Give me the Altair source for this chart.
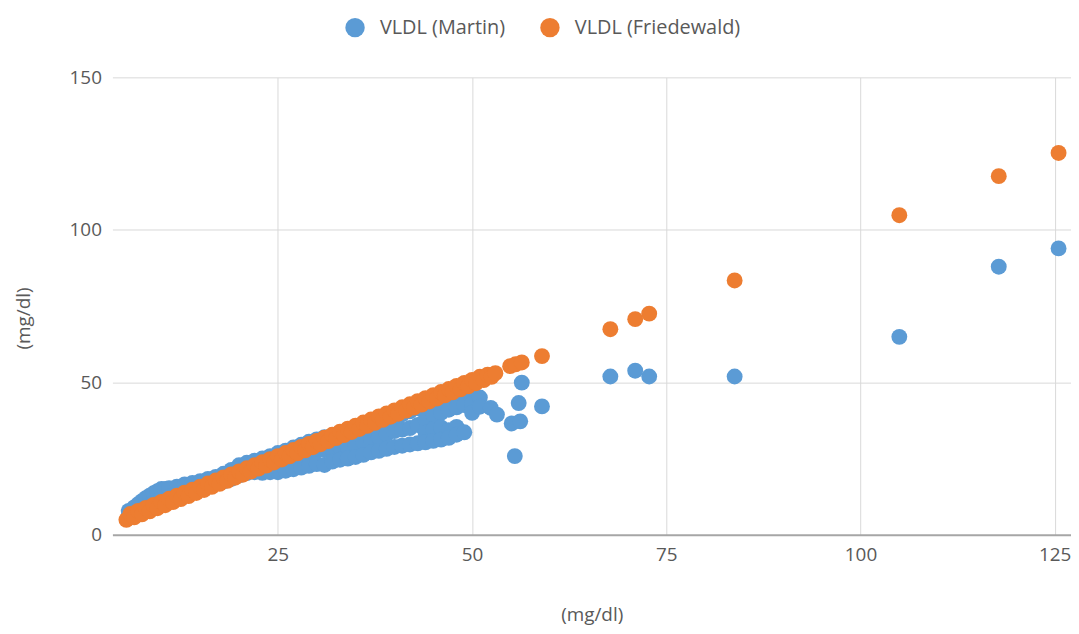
import altair as alt
import pandas as pd

series_names = ["VLDL (Martin)", "VLDL (Friedewald)"]
series_colors = ["#5B9BD5", "#ED7D31"]

x_ticks = [25, 50, 75, 100, 125]
y_ticks = [0, 50, 100, 150]

# VLDL (Martin) points
martin_x = [
    5.8, 5.8, 6.5, 6.5, 7.0, 7.0, 7.5, 7.5, 8.0, 8.0, 8.5, 8.5, 9.0, 9.0, 9.5, 9.5,
    10.0, 10.0, 10.5, 10.5, 11.0, 11.0, 12.0, 12.0, 13.0, 13.0, 14.0, 14.0,
    15.0, 15.0, 16.0, 16.0, 17.0, 17.0, 18.0, 18.0, 19.0, 19.0, 20.0, 20.0,
    21.0, 21.0, 22.0, 22.0,
    23.0, 23.0, 23.0, 24.0, 24.0, 24.0, 25.0, 25.0, 25.0, 26.0, 26.0, 26.0,
    27.0, 27.0, 27.0, 28.0, 28.0, 28.0, 29.0, 29.0, 29.0, 30.0, 30.0, 30.0,
    31.0, 31.0, 31.0, 32.0, 32.0, 32.0, 33.0, 33.0, 33.0, 34.0, 34.0, 34.0,
    35.0, 35.0, 35.0, 36.0, 36.0, 36.0, 37.0, 37.0, 37.0, 38.0, 38.0, 38.0,
    39.0, 39.0, 39.0, 40.0, 40.0, 40.0, 41.0, 41.0, 41.0, 42.0, 42.0, 42.0,
    43.0, 43.0, 43.0,
    44.0, 44.0, 44.0, 44.0, 45.0, 45.0, 45.0, 45.0, 46.0, 46.0, 46.0, 46.0,
    47.0, 47.0, 47.0, 47.0, 48.0, 48.0, 48.0, 48.0,
    49.0, 49.0, 49.0, 50.0, 50.0, 50.0, 51.0, 51.0,
    52.4, 53.2, 55.1, 56.2, 56.0, 56.4, 59.0, 55.5,
    67.8, 71.0, 72.8, 83.8, 105.0, 117.8, 125.5,
]
martin_y = [
    7.8, 6.2, 9.0, 7.0, 10.0, 7.8, 11.0, 8.5, 12.0, 9.0, 12.8, 9.8, 13.6, 10.5, 14.3, 11.0,
    15.0, 12.0, 15.0, 12.5, 15.3, 12.5, 15.8, 13.0, 16.5, 14.0, 17.0, 15.0,
    17.6, 15.5, 18.3, 16.0, 19.0, 17.0, 20.0, 17.5, 21.3, 18.3, 22.8, 19.5,
    23.6, 20.2, 24.3, 20.5,
    25.0, 22.5, 20.3, 25.8, 23.0, 20.5, 26.8, 23.5, 20.5, 27.6, 24.5, 21.0,
    28.6, 25.0, 21.5, 29.5, 25.8, 22.0, 30.5, 26.5, 22.6, 31.3, 27.5, 23.2,
    32.0, 27.8, 22.9, 32.6, 28.3, 24.0, 33.0, 28.8, 24.6, 32.5, 28.6, 25.0,
    33.5, 29.5, 25.5, 34.5, 30.5, 26.2, 35.5, 31.5, 27.0, 36.5, 32.0, 27.5,
    37.5, 33.0, 28.2, 38.5, 34.0, 28.8, 39.5, 34.5, 29.2, 40.5, 35.0, 29.6,
    41.5, 36.0, 30.0,
    42.5, 37.8, 33.5, 30.3, 43.5, 39.3, 34.6, 30.8, 44.0, 40.0, 35.2, 31.2,
    44.5, 41.0, 34.3, 31.8, 45.0, 41.8, 35.4, 32.8,
    45.5, 42.5, 33.6, 46.0, 43.0, 40.0, 45.0, 42.0,
    41.6, 39.4, 36.5, 37.2, 43.2, 49.9, 42.1, 25.8,
    51.9, 53.8, 51.9, 51.9, 64.9, 87.9, 93.9,
]

# VLDL (Friedewald) points
friedewald_x = [
    5.5, 6.0, 6.5, 7.0, 7.5, 8.0, 8.5, 9.0, 9.5, 10.0, 10.5, 11.0, 11.5, 12.0, 12.5,
    13.0, 13.5, 14.0, 14.5, 15.0, 15.5, 16.0, 16.5, 17.0, 17.5, 18.0, 18.5, 19.0, 19.5,
    20.0, 20.5, 21.0, 21.5, 22.0, 22.5, 23.0, 23.5, 24.0, 24.5, 25.0, 25.5, 26.0, 26.5,
    27.0, 27.5, 28.0, 28.5, 29.0, 29.5, 30.0, 30.5, 31.0, 31.5, 32.0, 32.5, 33.0, 33.5,
    34.0, 34.5, 35.0, 35.5, 36.0, 36.5, 37.0, 37.5, 38.0, 38.5, 39.0, 39.5, 40.0, 40.5,
    41.0, 41.5, 42.0, 42.5, 43.0, 43.5, 44.0, 44.5, 45.0, 45.5, 46.0, 46.5, 47.0, 47.5,
    48.0, 48.5, 49.0, 49.5, 50.0, 50.5, 51.0, 51.5, 52.0, 52.5, 53.0,
    54.9, 55.6, 56.4, 59.0, 67.8, 71.0, 72.8, 83.8, 105.0, 117.8, 125.5,
]
friedewald_y = [
    4.9, 6.8, 5.7, 7.8, 6.7, 8.8, 7.7, 9.8, 8.7, 10.8, 9.7, 11.8, 10.7, 12.8, 11.7,
    13.8, 12.7, 14.8, 13.7, 15.8, 14.7, 16.8, 15.7, 17.8, 16.7, 18.8, 17.7, 19.8, 18.7,
    20.8, 19.7, 21.8, 20.7, 22.8, 21.7, 23.8, 22.7, 24.8, 23.7, 25.8, 24.7, 26.8, 25.7,
    27.8, 26.7, 28.8, 27.7, 29.8, 28.7, 30.8, 29.7, 31.8, 30.7, 32.8, 31.7, 33.8, 32.7,
    34.8, 33.7, 35.8, 34.7, 36.8, 35.7, 37.8, 36.7, 38.8, 37.7, 39.8, 38.7, 40.8, 39.7,
    41.8, 40.7, 42.8, 41.7, 43.8, 42.7, 44.8, 43.7, 45.8, 44.7, 46.8, 45.7, 47.8, 46.7,
    48.8, 47.7, 49.8, 48.7, 50.8, 49.7, 51.8, 50.7, 52.5, 51.8, 53.0,
    55.3, 55.9, 56.5, 58.6, 67.4, 70.7, 72.5, 83.4, 104.8, 117.6, 125.2,
]

n_m = len(martin_x)
n_f = len(friedewald_x)
df = pd.DataFrame({
    "x": martin_x + friedewald_x,
    "y": martin_y + friedewald_y,
    "series": [series_names[0]] * n_m + [series_names[1]] * n_f,
})
df["order"] = list(range(len(df)))

FONT = "Open Sans"
TXT = "#595959"

chart = alt.Chart(df).mark_circle(size=255, opacity=1).encode(
    x=alt.X(
        "x:Q",
        scale=alt.Scale(domain=[3.7, 127.1], nice=False, zero=False),
        axis=alt.Axis(
            values=x_ticks, title="(mg/dl)", grid=True, gridColor="#D9D9D9",
            domain=True, domainColor="#A6A6A6", domainWidth=2,
            ticks=False, labelPadding=11, labelFontSize=19,
            labelColor=TXT, labelFont=FONT, titleFont=FONT, titleFontSize=19,
            titleColor=TXT, titleFontWeight="normal", titlePadding=41,
        ),
    ),
    y=alt.Y(
        "y:Q",
        scale=alt.Scale(domain=[0, 150], nice=False),
        axis=alt.Axis(
            values=y_ticks, title="(mg/dl)", grid=True, gridColor="#D9D9D9",
            gridOpacity={"condition": {"test": "datum.value === 0", "value": 0}, "value": 1},
            domain=False, ticks=False, labelPadding=11, labelFontSize=19,
            labelColor=TXT, labelFont=FONT, titleFont=FONT, titleFontSize=19,
            titleColor=TXT, titleFontWeight="normal", titlePadding=36, titleY=242,
        ),
    ),
    color=alt.Color(
        "series:N",
        scale=alt.Scale(domain=series_names, range=series_colors),
        legend=alt.Legend(
            title=None, orient="none", legendX=234, legendY=-60,
            direction="horizontal", symbolType="circle", symbolSize=380,
            symbolStrokeWidth=0, labelFontSize=20, labelFont=FONT,
            labelColor=TXT, labelOffset=15, columnPadding=34, padding=0,
            labelLimit=400,
        ),
    ),
    order=alt.Order("order:Q"),
).properties(
    width=964,
    height=460,
    autosize=alt.AutoSizeParams(type="none"),
    padding={"left": 105, "top": 68, "right": 0, "bottom": 90},
).configure(font=FONT).configure_view(strokeWidth=0, strokeOpacity=0)

chart.save("out.html", embed_options={"renderer": "svg", "actions": False})
